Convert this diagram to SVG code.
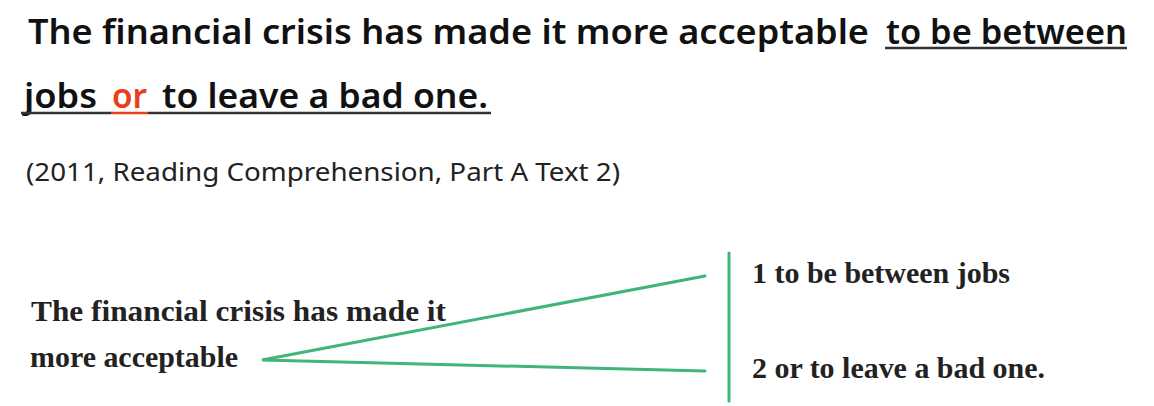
<svg xmlns="http://www.w3.org/2000/svg" width="1154" height="406" viewBox="0 0 1154 406">
<style>
.hand{font-family:"Noto Sans","DejaVu Sans",sans-serif;font-weight:600;font-size:34px;fill:#111}
.sub{font-family:"Noto Sans","DejaVu Sans",sans-serif;font-weight:400;font-size:26px;fill:#222}
.ser{font-family:"Liberation Serif","Times New Roman",serif;font-weight:700;font-size:30px;fill:#222}
.ul{stroke:#333;stroke-width:2.5}
.conn{stroke:#3fb47b;stroke-width:3;fill:none;stroke-linecap:round}
</style>
<rect width="1154" height="406" fill="#fff"/>
<g id="title">
<text class="hand" x="28" y="44" textLength="841" lengthAdjust="spacingAndGlyphs">The financial crisis has made it more acceptable</text>
<text class="hand" x="886" y="44" textLength="241" lengthAdjust="spacingAndGlyphs">to be between</text>
<text class="hand" x="24" y="108" textLength="73" lengthAdjust="spacingAndGlyphs">jobs</text>
<text class="hand" x="112" y="108" textLength="35" lengthAdjust="spacingAndGlyphs" style="fill:#e8401c">or</text>
<text class="hand" x="162" y="108" textLength="326" lengthAdjust="spacingAndGlyphs">to leave a bad one.</text>
<line class="ul" x1="885" y1="48" x2="1127" y2="48"/>
<line class="ul" x1="21" y1="113" x2="111" y2="113"/>
<line class="ul" x1="111" y1="113" x2="148" y2="113" style="stroke:#e8401c"/>
<line class="ul" x1="148" y1="113" x2="491" y2="113"/>
</g>
<g id="source">
<text class="sub" x="26" y="181" textLength="594" lengthAdjust="spacingAndGlyphs">(2011, Reading Comprehension, Part A Text 2)</text>
</g>
<g id="stem">
<text class="ser" x="31" y="321" textLength="415" lengthAdjust="spacingAndGlyphs">The financial crisis has made it</text>
<text class="ser" x="30" y="367" textLength="208" lengthAdjust="spacingAndGlyphs">more acceptable</text>
</g>
<g id="branch1">
<text class="ser" x="752" y="283" textLength="258" lengthAdjust="spacingAndGlyphs">1 to be between jobs</text>
</g>
<g id="branch2">
<text class="ser" x="752" y="378" textLength="293" lengthAdjust="spacingAndGlyphs">2 or to leave a bad one.</text>
</g>
<g id="connectors">
<path class="conn" d="M705 276 L262 360 L705 371"/>
<line class="conn" x1="729" y1="253" x2="729" y2="401"/>
</g>
</svg>
